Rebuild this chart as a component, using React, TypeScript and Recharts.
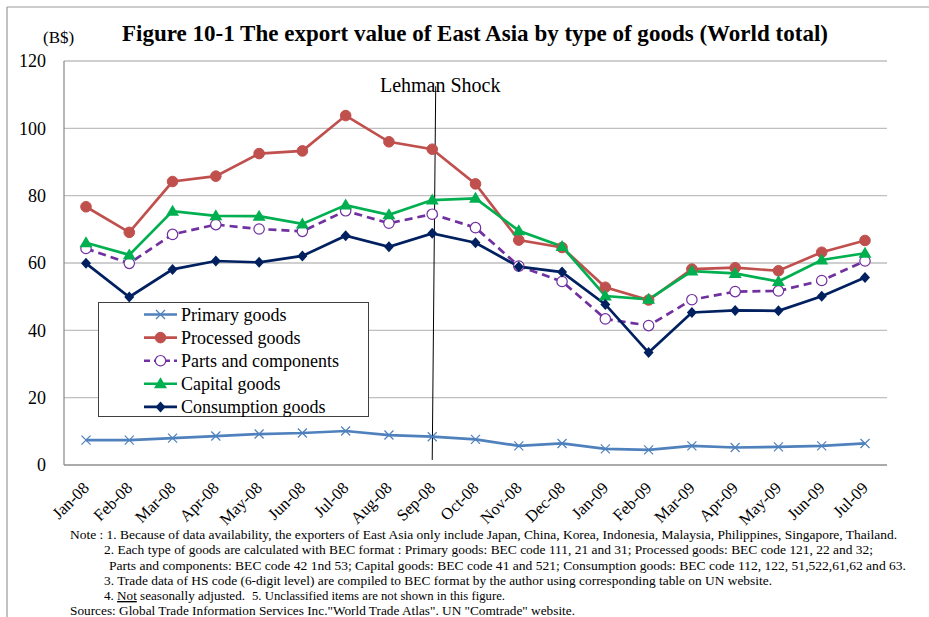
import React from 'react';
import {
  LineChart,
  Line,
  XAxis,
  YAxis,
  CartesianGrid,
  ReferenceLine,
  Legend,
} from 'recharts';

const months = [
  'Jan-08', 'Feb-08', 'Mar-08', 'Apr-08', 'May-08', 'Jun-08', 'Jul-08', 'Aug-08', 'Sep-08', 'Oct-08',
  'Nov-08', 'Dec-08', 'Jan-09', 'Feb-09', 'Mar-09', 'Apr-09', 'May-09', 'Jun-09', 'Jul-09',
];
const primary = [7.4, 7.4, 8.0, 8.6, 9.2, 9.5, 10.1, 8.9, 8.4, 7.6, 5.7, 6.4, 4.8, 4.5, 5.7, 5.2, 5.4, 5.7, 6.4];
const processed = [76.7, 69.1, 84.2, 85.8, 92.5, 93.3, 103.8, 96.0, 93.8, 83.5, 66.8, 64.6, 52.8, 49.0, 58.2, 58.6, 57.7, 63.2, 66.7];
const parts = [64.3, 59.9, 68.5, 71.4, 70.1, 69.4, 75.5, 71.8, 74.5, 70.5, 59.1, 54.5, 43.4, 41.4, 49.1, 51.5, 51.7, 54.8, 60.6];
const capital = [66.0, 62.4, 75.4, 74.0, 73.9, 71.6, 77.2, 74.3, 78.7, 79.2, 69.6, 64.9, 50.2, 49.2, 57.6, 56.9, 54.5, 60.9, 62.9];
const consumption = [59.9, 49.9, 58.1, 60.6, 60.2, 62.1, 68.1, 64.8, 68.8, 66.0, 58.9, 57.3, 47.7, 33.4, 45.3, 45.9, 45.8, 50.1, 55.7];
const yTicks = [0, 20, 40, 60, 80, 100, 120];

const SERIF = '"Liberation Serif", "Times New Roman", serif';

const data = months.map((m, i) => ({
  month: m,
  primary: primary[i],
  processed: processed[i],
  parts: parts[i],
  capital: capital[i],
  consumption: consumption[i],
}));

// marker shapes, drawn around a centre point
function marker(kind: string, cx: number, cy: number, key?: any) {
  switch (kind) {
    case 'cross':
      return (
        <g key={key}>
          <line x1={cx - 4.5} y1={cy - 4.5} x2={cx + 4.5} y2={cy + 4.5} stroke="#4F81BD" strokeWidth={1.2} />
          <line x1={cx - 4.5} y1={cy + 4.5} x2={cx + 4.5} y2={cy - 4.5} stroke="#4F81BD" strokeWidth={1.2} />
        </g>
      );
    case 'circle':
      return <circle key={key} cx={cx} cy={cy} r={5.3} fill="#C0504D" stroke="#C0504D" />;
    case 'hollow':
      return <circle key={key} cx={cx} cy={cy} r={5.2} fill="#fff" stroke="#7030A0" strokeWidth={1.2} />;
    case 'triangle':
      return (
        <polygon
          key={key}
          points={`${cx},${cy - 6.5} ${cx + 6.5},${cy + 4.5} ${cx - 6.5},${cy + 4.5}`}
          fill="#00B050"
        />
      );
    default:
      return (
        <polygon
          key={key}
          points={`${cx},${cy - 5.5} ${cx + 5},${cy} ${cx},${cy + 5.5} ${cx - 5},${cy}`}
          fill="#002060"
        />
      );
  }
}

const series = [
  { key: 'primary', name: 'Primary goods', color: '#4F81BD', shape: 'cross', dash: undefined },
  { key: 'processed', name: 'Processed goods', color: '#C0504D', shape: 'circle', dash: undefined },
  { key: 'parts', name: 'Parts and components', color: '#7030A0', shape: 'hollow', dash: '8 5' },
  { key: 'capital', name: 'Capital goods', color: '#00B050', shape: 'triangle', dash: undefined },
  { key: 'consumption', name: 'Consumption goods', color: '#002060', shape: 'diamond', dash: undefined },
];

const XTick = ({ x, y, payload }: any) => {
  const ax = x + 4;
  const ay = y + 24;
  return (
    <text
      x={ax}
      y={ay}
      transform={`rotate(-45 ${ax} ${ay})`}
      textAnchor="end"
      fontFamily={SERIF}
      fontSize={16.5}
      fill="#000"
    >
      {payload.value}
    </text>
  );
};

const renderLegend = () => (
  <div
    style={{
      width: 271,
      height: 115,
      border: '1px solid #404040',
      background: '#fff',
      boxSizing: 'border-box',
    }}
  >
    <svg width={269} height={113} style={{ overflow: 'visible', display: 'block' }}>
      {series.map((s, i) => {
        const cy = 11.5 + i * 23.1;
        return (
          <g key={s.key}>
            <line x1={45} y1={cy} x2={78} y2={cy} stroke={s.color} strokeWidth={2.6} strokeDasharray={s.dash ? '6 4' : undefined} />
            {marker(s.shape, 61.5, cy)}
            <text x={82} y={cy + 6} fontFamily={SERIF} fontSize={18} fill="#000">
              {s.name}
            </text>
          </g>
        );
      })}
    </svg>
  </div>
);

const notes = [
  { x: 70, y: 539, w: 827, t: 'Note : 1. Because of data availability, the exporters of  East Asia only include Japan, China, Korea, Indonesia, Malaysia, Philippines, Singapore, Thailand.' },
  { x: 104, y: 554, w: 769, t: '2. Each type of goods are calculated with BEC format : Primary goods: BEC code 111, 21 and 31; Processed goods: BEC code 121, 22 and 32;' },
  { x: 109, y: 570, w: 797, t: 'Parts and components: BEC code 42 1nd 53; Capital goods: BEC code 41 and 521; Consumption goods: BEC code 112, 122, 51,522,61,62 and 63.' },
  { x: 104, y: 585, w: 668, t: '3. Trade data of HS code (6-digit level) are compiled to BEC format by the author using corresponding table on UN website.' },
  { x: 252, y: 600, w: 253, t: '5. Unclassified items are not shown in this figure.' },
  { x: 70, y: 615, w: 505, t: 'Sources: Global Trade Information Services Inc."World Trade Atlas". UN "Comtrade" website.' },
];

export default function App() {
  return (
    <div style={{ position: 'absolute', left: 0, top: 0, width: 929, height: 617, background: '#fff', overflow: 'hidden' }}>
      <LineChart
        width={929}
        height={617}
        data={data}
        margin={{ top: 61, right: 42, left: 14, bottom: 92 }}
      >
        <CartesianGrid horizontal vertical={false} stroke="#BFBFBF" strokeWidth={1.4} />
        <XAxis
          dataKey="month"
          padding={{ left: 22, right: 22 }}
          axisLine={{ stroke: '#868686', strokeWidth: 1.2 }}
          tickLine={false}
          tickSize={0}
          tickMargin={0}
          interval={0}
          height={60}
          tick={<XTick />}
        />
        <YAxis
          domain={[0, 120]}
          ticks={yTicks}
          width={50}
          axisLine={{ stroke: '#868686', strokeWidth: 1.2 }}
          tickLine={false}
          tickSize={0}
          tickMargin={18}
          tick={{ fill: '#000', fontSize: 18, fontFamily: SERIF }}
        />
        <Legend
          layout="horizontal"
          verticalAlign="middle"
          align="center"
          content={renderLegend}
          wrapperStyle={{ position: 'absolute', left: 98, top: 302, width: 271, height: 115 }}
        />
        {series.map((s) => (
          <Line
            key={s.key}
            type="linear"
            dataKey={s.key}
            name={s.name}
            stroke={s.color}
            strokeWidth={2.7}
            strokeDasharray={s.dash}
            dot={(p: any) => marker(s.shape, p.cx, p.cy, `${s.key}-${p.index}`)}
            activeDot={false}
            isAnimationActive={false}
          />
        ))}
        <ReferenceLine
          segment={[
            { x: 'Sep-08', y: 1.5 },
            { x: 'Sep-08', y: 112.5 },
          ]}
          stroke="#000"
          strokeWidth={1}
          shape={(p: any) => (
            <line x1={p.x1} y1={p.y1} x2={p.x2 + 3.5} y2={p.y2} stroke="#000" strokeWidth={1} />
          )}
          label={(p: any) => (
            <text
              x={p.viewBox.x + 8}
              y={p.viewBox.y + 6}
              textAnchor="middle"
              fontFamily={SERIF}
              fontSize={20}
              fill="#000"
            >
              Lehman Shock
            </text>
          )}
        />
      </LineChart>
      <svg
        width={929}
        height={617}
        style={{ position: 'absolute', left: 0, top: 0, pointerEvents: 'none' }}
      >
        <line x1={7} y1={7} x2={929} y2={7} stroke="#999" strokeWidth={1.2} />
        <line x1={7} y1={7} x2={7} y2={617} stroke="#999" strokeWidth={1.2} />
        <text x={122} y={41} fontFamily={SERIF} fontWeight="bold" fontSize={23} textLength={706} lengthAdjust="spacingAndGlyphs">
          Figure 10-1 The export value of East Asia by type of goods (World total)
        </text>
        <text x={43} y={43} fontFamily={SERIF} fontSize={17}>
          (B$)
        </text>
        {notes.map((n, i) => (
          <text key={i} x={n.x} y={n.y} fontFamily={SERIF} fontSize={13.5} textLength={n.w} lengthAdjust="spacingAndGlyphs">
            {n.t}
          </text>
        ))}
        <text x={104} y={600} fontFamily={SERIF} fontSize={13.5} textLength={141} lengthAdjust="spacingAndGlyphs">
          4. <tspan textDecoration="underline">Not</tspan> seasonally adjusted.
        </text>
      </svg>
    </div>
  );
}
